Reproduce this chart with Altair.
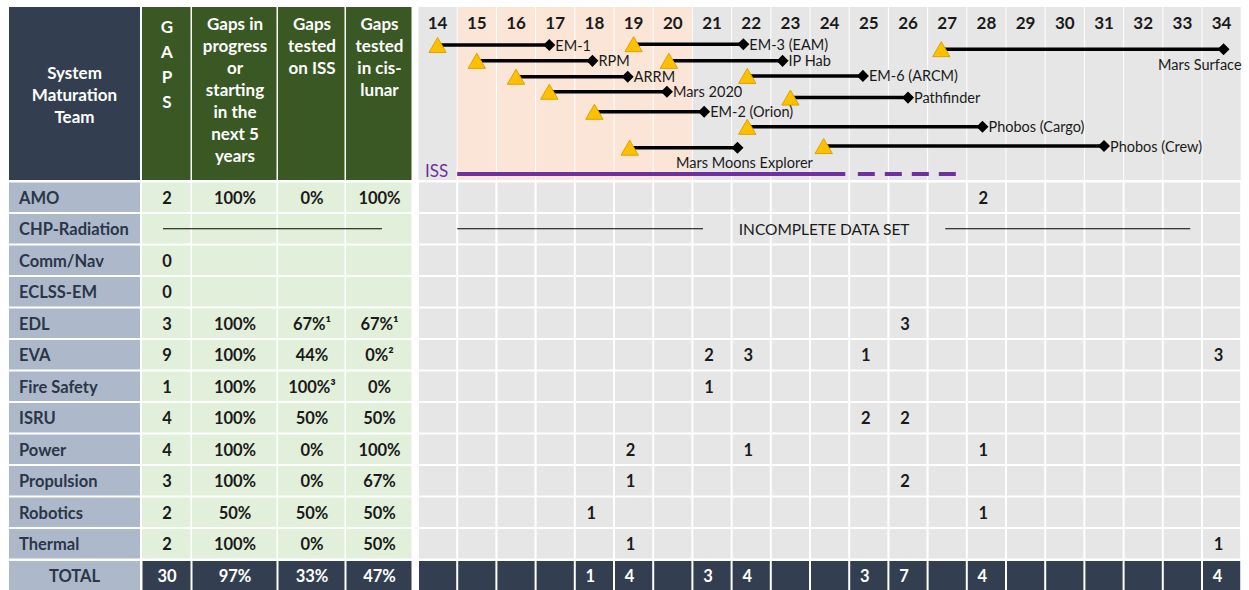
import altair as alt
import pandas as pd

# ---------------- data ----------------
teams = ["AMO", "CHP-Radiation", "Comm/Nav", "ECLSS-EM", "EDL", "EVA",
         "Fire Safety", "ISRU", "Power", "Propulsion", "Robotics", "Thermal"]
gaps = ["2", "", "0", "0", "3", "9", "1", "4", "4", "3", "2", "2"]
in_progress = ["100%", "", "", "", "100%", "100%", "100%", "100%", "100%", "100%", "50%", "100%"]
tested_iss = ["0%", "", "", "", "67%¹", "44%", "100%³", "50%", "0%", "0%", "50%", "0%"]
tested_cis = ["100%", "", "", "", "67%¹", "0%²", "0%", "50%", "100%", "67%", "50%", "50%"]
total_label = "TOTAL"
totals = ["30", "97%", "33%", "47%"]

header_left = ["System", "Maturation", "Team"]
header_cols = [["G", "A", "P", "S"],
               ["Gaps in", "progress", "or", "starting", "in the", "next 5", "years"],
               ["Gaps", "tested", "on ISS"],
               ["Gaps", "tested", "in cis-", "lunar"]]

years = list(range(14, 35))
peach_years = [15, 16, 17, 18, 19, 20]

cnt_team = ["AMO", "EDL", "EVA", "EVA", "EVA", "EVA", "Fire Safety", "ISRU", "ISRU",
            "Power", "Power", "Power", "Propulsion", "Propulsion", "Robotics", "Robotics",
            "Thermal", "Thermal"]
cnt_year = [28, 26, 21, 22, 25, 34, 21, 25, 26, 19, 22, 28, 19, 26, 18, 28, 19, 34]
cnt_value = [2, 3, 2, 3, 1, 3, 1, 2, 2, 2, 1, 1, 1, 2, 1, 1, 1, 1]
total_years = [18, 19, 21, 22, 25, 26, 28, 34]
total_counts = [1, 4, 3, 4, 3, 7, 4, 4]

missions = ["EM-1", "EM-3 (EAM)", "Mars Surface", "RPM", "IP Hab", "ARRM", "EM-6 (ARCM)",
            "Mars 2020", "Pathfinder", "EM-2 (Orion)", "Phobos (Cargo)",
            "Mars Moons Explorer", "Phobos (Crew)"]
m_start = [14.0, 19.0, 26.85, 15.0, 19.9, 16.0, 21.9, 16.85, 23.0, 18.0, 21.9, 18.9, 23.85]
m_end = [16.85, 21.8, 34.05, 17.95, 22.8, 18.85, 24.85, 19.85, 26.0, 20.8, 27.9, 21.65, 31.0]

iss_label = "ISS"
iss_solid = [14.5, 24.4]
iss_planned = [24.72, 27.25]
incomplete_text = "INCOMPLETE DATA SET"
incomplete_left = [14.5, 20.77]
incomplete_right = [26.95, 33.2]

# ---------------- layout / style ----------------
W, H = 1249, 590
FONT = "Lato"
NAVY = "#333f50"
GREEN = "#3a5823"
STEEL = "#adb9ca"
LGREEN = "#e2efda"
GRAY = "#e7e6e6"
PEACH = "#fbe5d6"
PURPLE = "#7030a0"
DARK = "#1a1a1a"
LABEL = "#2b3649"

HEAD_Y0, HEAD_Y1 = 7, 180
LBL_X0, LBL_X1 = 9, 140
COL_EDGES = [142, 192, 278, 346, 413]
TL_X0, COL_W = 418, 39.2
BODY_Y0, ROW_H = 181.5, 31.5
TOT_Y0, TOT_Y1 = 561, 590
LANE_Y0, LANE_H = 45, 16.7
m_lane = [0, -0.05, 0.25, 0.95, 0.95, 1.9, 1.85, 2.8, 3.15, 4.0, 4.9, 6.15, 6.05]
m_label_pos = ["right", "right", "below-right", "right", "right", "right", "right",
               "right", "right", "right", "right", "below", "right"]

HEAD_SIZE = 17
VAL_SIZE = 16.5
LBL_SIZE = 16.5
YEAR_SIZE = 17
MIS_SIZE = 14.5
TEXT_DY = 1.5


def xyear(v):
    return TL_X0 + (v - 13.5) * COL_W


def col_center(i):
    return (COL_EDGES[i] + COL_EDGES[i + 1]) / 2


def row_center(r):
    return BODY_Y0 + r * ROW_H + ROW_H / 2


# ---------------- rectangles ----------------
rects = []


def add_rect(x, x2, y, y2, fill):
    rects.append(dict(x=x, x2=x2, y=y, y2=y2, fill=fill))


add_rect(LBL_X0, LBL_X1, HEAD_Y0, HEAD_Y1, NAVY)
for i in range(4):
    add_rect(COL_EDGES[i], COL_EDGES[i + 1] - 1.5, HEAD_Y0, HEAD_Y1, GREEN)
for yr in years:
    add_rect(xyear(yr - 0.5) + 0.5, xyear(yr + 0.5) - 0.5, HEAD_Y0, HEAD_Y1,
             PEACH if yr in peach_years else GRAY)
for r, team in enumerate(teams):
    y0 = BODY_Y0 + r * ROW_H + 1
    y1 = BODY_Y0 + (r + 1) * ROW_H - 1
    add_rect(LBL_X0, LBL_X1, y0, y1, STEEL)
    for i in range(4):
        add_rect(COL_EDGES[i], COL_EDGES[i + 1] - 1.5, y0, y1, LGREEN)
    for yr in years:
        add_rect(xyear(yr - 0.5) + 1, xyear(yr + 0.5) - 1, y0, y1, GRAY)
add_rect(LBL_X0, LBL_X1, TOT_Y0, TOT_Y1, STEEL)
for i in range(4):
    add_rect(COL_EDGES[i] + 0.5, COL_EDGES[i + 1] - 1.5, TOT_Y0, TOT_Y1, NAVY)
for yr in years:
    add_rect(xyear(yr - 0.5) + 1, xyear(yr + 0.5) - 1, TOT_Y0, TOT_Y1, NAVY)
rect_df = pd.DataFrame(rects)

# ---------------- texts ----------------
bold_c = []
for k, line in enumerate(header_left):
    bold_c.append(dict(x=(LBL_X0 + LBL_X1) / 2, y=72 + k * 22, text=line, color="white",
                       size=HEAD_SIZE))
col_line_y0 = [26, 23, 23, 23]
col_line_dy = [25, 22, 22, 22]
for i, lines in enumerate(header_cols):
    for k, line in enumerate(lines):
        bold_c.append(dict(x=col_center(i), y=col_line_y0[i] + k * col_line_dy[i],
                           text=line, color="white", size=HEAD_SIZE))
for yr in years:
    bold_c.append(dict(x=xyear(yr), y=22, text=str(yr), color=DARK, size=YEAR_SIZE))
for r in range(len(teams)):
    for i, col in enumerate([gaps, in_progress, tested_iss, tested_cis]):
        if col[r]:
            bold_c.append(dict(x=col_center(i), y=row_center(r), text=col[r], color=DARK,
                               size=VAL_SIZE))
for t, yv, v in zip(cnt_team, cnt_year, cnt_value):
    r = teams.index(t)
    bold_c.append(dict(x=xyear(yv) - 3, y=row_center(r), text=str(v), color=DARK,
                       size=VAL_SIZE))
tot_y = (TOT_Y0 + TOT_Y1) / 2
bold_c.append(dict(x=(LBL_X0 + LBL_X1) / 2, y=tot_y, text=total_label, color=LABEL,
                   size=VAL_SIZE))
for i, v in enumerate(totals):
    bold_c.append(dict(x=col_center(i), y=tot_y, text=v, color="white", size=VAL_SIZE))
for yv, v in zip(total_years, total_counts):
    bold_c.append(dict(x=xyear(yv) - 4, y=tot_y, text=str(v), color="white", size=VAL_SIZE))
bold_c_df = pd.DataFrame(bold_c)

bold_l_df = pd.DataFrame([dict(x=LBL_X0 + 10, y=row_center(r), text=t, color=LABEL,
                               size=LBL_SIZE)
                          for r, t in enumerate(teams)])

norm_l, norm_c, norm_r = [], [], []
for name, s, e, lane, pos in zip(missions, m_start, m_end, m_lane, m_label_pos):
    ly = LANE_Y0 + lane * LANE_H
    if pos == "right":
        norm_l.append(dict(x=xyear(e) + 6, y=ly, text=name, color=DARK, size=MIS_SIZE))
    elif pos == "below-right":
        norm_r.append(dict(x=xyear(e) + 18, y=ly + 15, text=name, color=DARK, size=MIS_SIZE))
    else:
        norm_c.append(dict(x=xyear(e) + 7, y=ly + 15, text=name, color=DARK, size=MIS_SIZE))
norm_l.append(dict(x=TL_X0 + 7, y=170, text=iss_label, color=PURPLE, size=17))
chp_y = row_center(teams.index("CHP-Radiation"))
norm_c.append(dict(x=(xyear(incomplete_left[1]) + xyear(incomplete_right[0])) / 2, y=chp_y,
                   text=incomplete_text, color=DARK, size=15.5))
norm_l_df = pd.DataFrame(norm_l)
norm_c_df = pd.DataFrame(norm_c)
norm_r_df = pd.DataFrame(norm_r)

# ---------------- lines ----------------
mis_df = pd.DataFrame(dict(
    name=missions,
    x=[xyear(v) for v in m_start],
    x2=[xyear(v) for v in m_end],
    y=[LANE_Y0 + l * LANE_H for l in m_lane],
))
thin_df = pd.DataFrame([
    dict(x=COL_EDGES[0] + 21, x2=COL_EDGES[4] - 31, y=chp_y),
    dict(x=xyear(incomplete_left[0]), x2=xyear(incomplete_left[1]), y=chp_y),
    dict(x=xyear(incomplete_right[0]), x2=xyear(incomplete_right[1]), y=chp_y),
])
iss_df = pd.DataFrame([dict(x=xyear(iss_solid[0]), x2=xyear(iss_solid[1]), y=174)])
iss_pl_df = pd.DataFrame([dict(x=xyear(iss_planned[0]), x2=xyear(iss_planned[1]), y=174)])

# ---------------- chart ----------------
xs = alt.Scale(domain=[0, W], nice=False, zero=False)
ys = alt.Scale(domain=[0, H], nice=False, zero=False, reverse=True)
X = alt.X("x:Q", scale=xs, axis=None)
Y = alt.Y("y:Q", scale=ys, axis=None)

rect_layer = alt.Chart(rect_df).mark_rect(strokeWidth=0).encode(
    x=X, x2="x2:Q", y=Y, y2="y2:Q", color=alt.Color("fill:N", scale=None))


def text_layer(df, weight, align):
    return alt.Chart(df).mark_text(font=FONT, fontWeight=weight, align=align,
                                   baseline="middle", dy=TEXT_DY).encode(
        x=X, y=Y, text="text:N", color=alt.Color("color:N", scale=None),
        size=alt.Size("size:Q", scale=None))


mis_lines = alt.Chart(mis_df).mark_rule(strokeWidth=3.5, color="black").encode(
    x=X, x2="x2:Q", y=Y)
tri = alt.Chart(mis_df).mark_point(shape="triangle-up", filled=True, size=300,
                                   fill="#ffc000", stroke="#d9a400", strokeWidth=1,
                                   opacity=1).encode(x=X, y=Y)
dia = alt.Chart(mis_df).mark_point(shape="diamond", filled=True, size=85,
                                   fill="black", stroke="black", opacity=1).encode(
    x=alt.X("x2:Q", scale=xs, axis=None), y=Y)
thin = alt.Chart(thin_df).mark_rule(strokeWidth=1.2, color="black").encode(
    x=X, x2="x2:Q", y=Y)
iss_line = alt.Chart(iss_df).mark_rule(strokeWidth=4, color=PURPLE).encode(
    x=X, x2="x2:Q", y=Y)
iss_plan = alt.Chart(iss_pl_df).mark_rule(strokeWidth=4, color=PURPLE,
                                          strokeDash=[17, 10]).encode(
    x=X, x2="x2:Q", y=Y)

chart = alt.layer(
    rect_layer, thin, iss_line, iss_plan, mis_lines, tri, dia,
    text_layer(bold_c_df, "bold", "center"),
    text_layer(bold_l_df, "bold", "left"),
    text_layer(norm_l_df, "normal", "left"),
    text_layer(norm_c_df, "normal", "center"),
    text_layer(norm_r_df, "normal", "right"),
).properties(
    width=W, height=H, padding=0, autosize=alt.AutoSizeParams(type="none"),
    background="white",
).configure_view(stroke=None)

chart.save("out.html", embed_options={"renderer": "svg", "actions": False})
